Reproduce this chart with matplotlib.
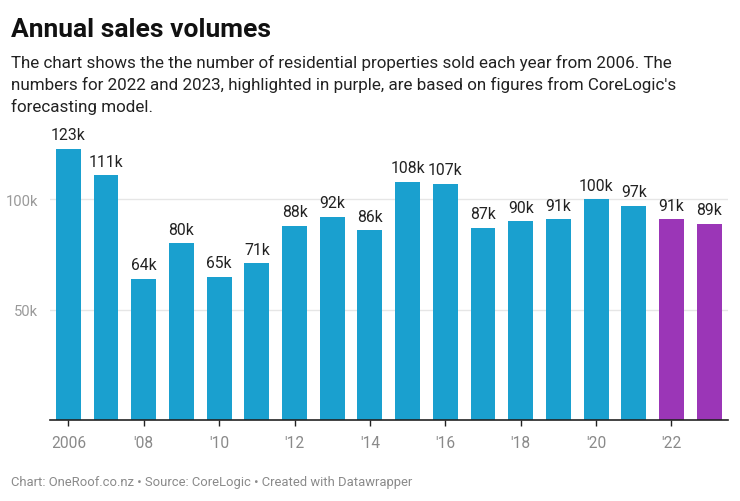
import matplotlib
matplotlib.use("Agg")
import matplotlib.pyplot as plt

years = list(range(2006, 2024))
values = [123, 111, 64, 80, 65, 71, 88, 92, 86, 108, 107, 87, 90, 91, 100, 97, 91, 89]
forecast_years = [2022, 2023]
tick_years = [2006, 2008, 2010, 2012, 2014, 2016, 2018, 2020, 2022]
tick_labels = ["2006", "'08", "'10", "'12", "'14", "'16", "'18", "'20", "'22"]
y_ticks = [50, 100]
y_tick_labels = ["50k", "100k"]

title = "Annual sales volumes"
subtitle_lines = ["The chart shows the the number of residential properties sold each year from 2006. The",
                  "numbers for 2022 and 2023, highlighted in purple, are based on figures from CoreLogic's",
                  "forecasting model."]
footer = "Chart: OneRoof.co.nz \u2022 Source: CoreLogic \u2022 Created with Datawrapper"

BLUE = "#1aa0cf"
PURPLE = "#9b36b7"

plt.rcParams['font.family'] = ['Roboto', 'DejaVu Sans']

W, H = 740, 502
fig = plt.figure(figsize=(W / 100, H / 100), dpi=100)
fig.patch.set_facecolor("white")

left, right, top, bottom = 49.5, 728, 140, 420.5
ax = fig.add_axes([left / W, 1 - bottom / H, (right - left) / W, (bottom - top) / H])

colors = [PURPLE if y in forecast_years else BLUE for y in years]
ax.bar(years, values, width=0.66, color=colors, zorder=2)
for x, v in zip(years, values):
    ax.text(x, v + 3.0, f"{v}k", ha="center", va="bottom", fontsize=11.3, color="#222222")

ax.set_xlim(2006 - 0.5, 2023 + 0.5)
ax.set_ylim(0, (bottom - top) / 2.2)

for s in ["top", "right", "left"]:
    ax.spines[s].set_visible(False)
ax.spines["bottom"].set_color("#222222")
ax.spines["bottom"].set_linewidth(1.2)
ax.spines["bottom"].set_zorder(3)

ax.set_xticks(tick_years)
ax.set_xticklabels(tick_labels, fontsize=11.2, color="#8a8a8a")
ax.tick_params(axis="x", length=4, width=1, color="#222222", pad=7)

ax.set_yticks(y_ticks)
ax.set_yticklabels(y_tick_labels, fontsize=10.6, color="#9a9a9a")
ax.tick_params(axis="y", length=0, pad=8)
ax.yaxis.grid(True, color="#e6e6e6", linewidth=1, zorder=0)
ax.set_axisbelow(True)

fig.text(11 / W, 1 - 37 / H, title, fontsize=19.0, fontweight="bold", color="#111111", va="baseline", ha="left")
for i, line in enumerate(subtitle_lines):
    fig.text(11 / W, 1 - (68 + 22 * i) / H, line, fontsize=12.25, color="#222222", va="baseline", ha="left")
fig.text(11 / W, 1 - 486 / H, footer, fontsize=9.4, color="#8a8a8a", va="baseline", ha="left")

fig.savefig("out.png", dpi=100, facecolor="white")
